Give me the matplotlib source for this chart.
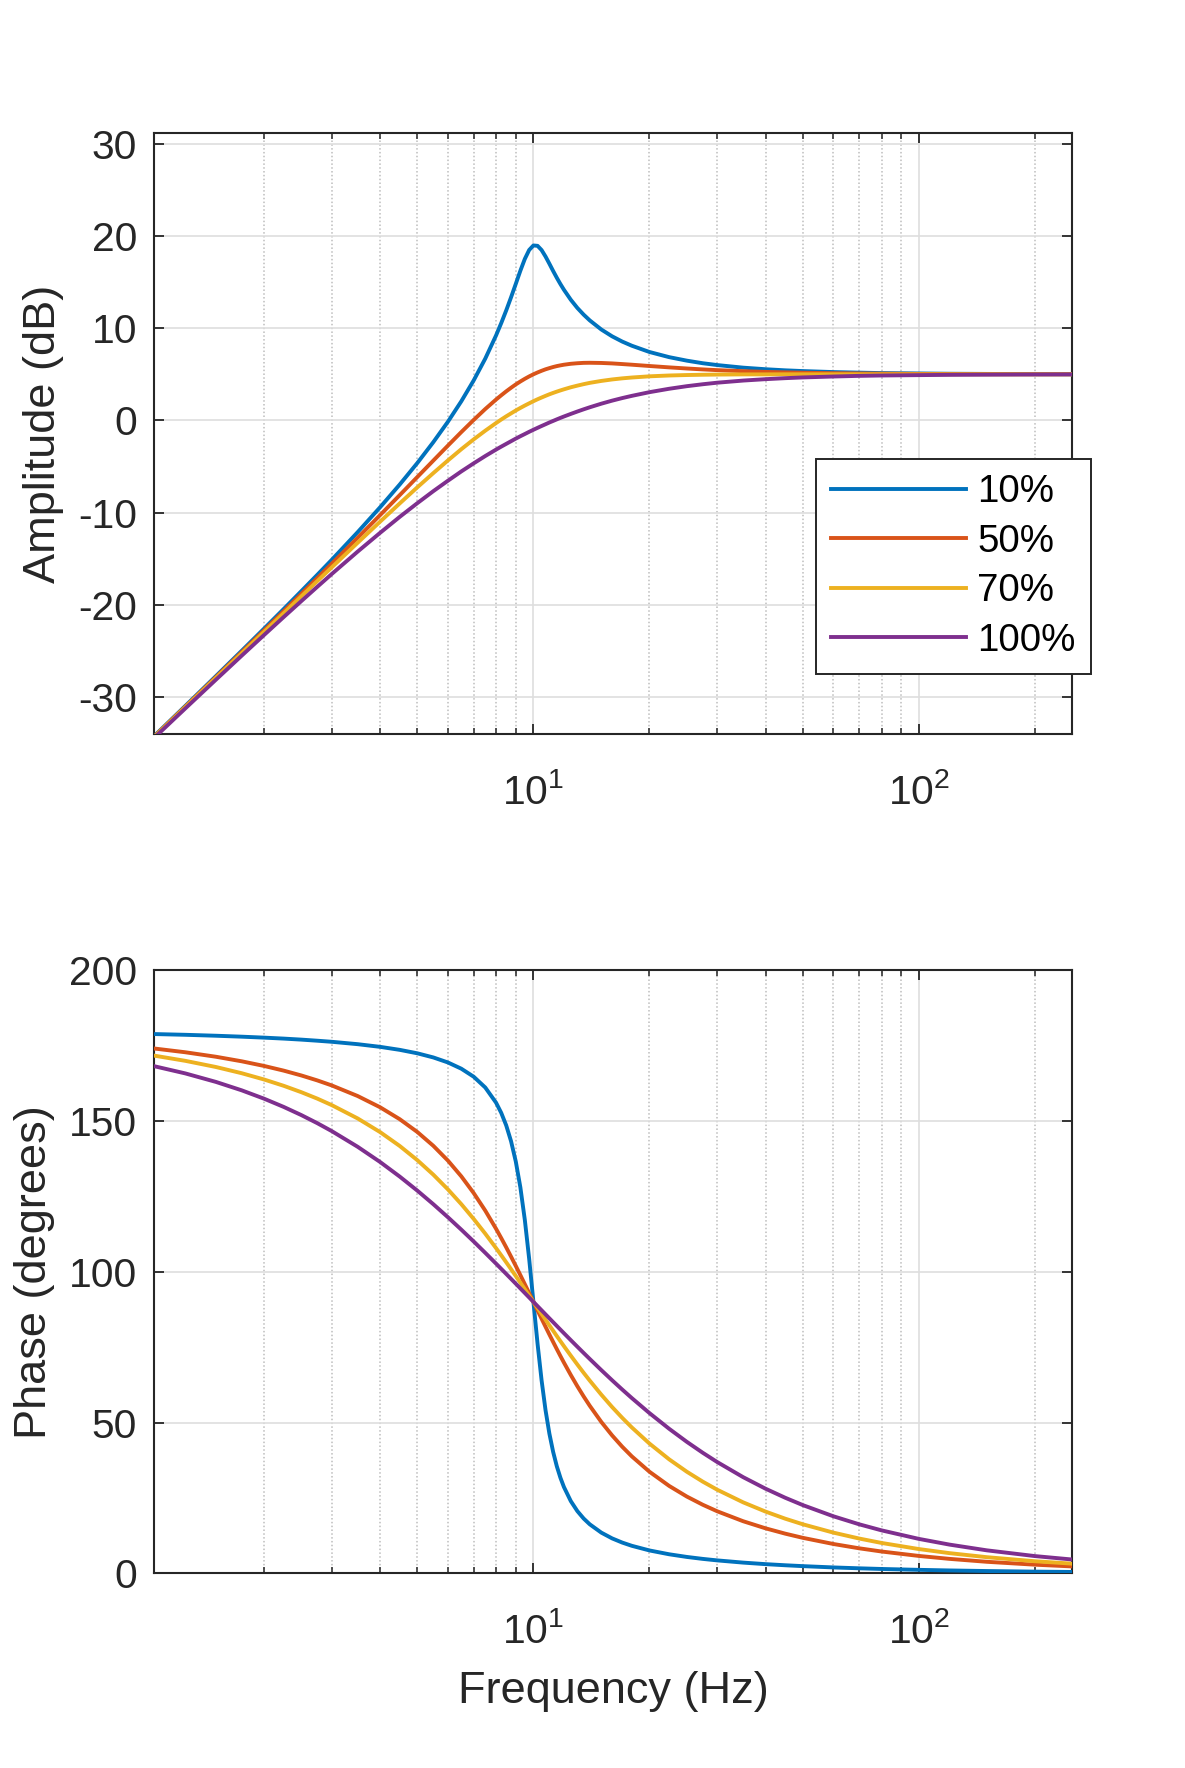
import matplotlib
matplotlib.use('Agg')
import matplotlib.pyplot as plt
from matplotlib.ticker import LogLocator, LogFormatterMathtext, NullFormatter, FixedLocator

# ---------------- data ----------------
freq = [1.035, 1.25, 1.5, 1.75, 2, 2.25, 2.5, 2.75, 3, 3.5,
        4, 4.5, 5, 5.5, 6, 6.5, 7, 7.5, 8, 8.25,
        8.5, 8.75, 9, 9.25, 9.5, 9.75, 10, 10.25, 10.5, 10.75,
        11, 11.25, 11.5, 11.75, 12, 12.5, 13, 13.5, 14, 15,
        16, 17, 18, 20, 22.5, 25, 27.5, 30, 35, 40,
        45, 50, 60, 70, 80, 100, 120, 150, 200, 250]

labels = ['10%', '50%', '70%', '100%']

amp_10 = [-34.31, -30.99, -27.76, -25.01, -22.61, -20.47, -18.53, -16.76, -15.12, -12.13,
          -9.44, -6.96, -4.62, -2.36, -0.15, 2.07, 4.34, 6.70, 9.22, 10.55,
          11.93, 13.36, 14.81, 16.24, 17.52, 18.49, 18.98, 18.94, 18.48, 17.78,
          17.00, 16.21, 15.47, 14.79, 14.17, 13.09, 12.20, 11.47, 10.85, 9.86,
          9.12, 8.55, 8.10, 7.42, 6.86, 6.48, 6.20, 6.00, 5.72, 5.55,
          5.43, 5.35, 5.24, 5.18, 5.13, 5.09, 5.06, 5.04, 5.02, 5.01]
amp_50 = [-34.36, -31.06, -27.86, -25.15, -22.79, -20.70, -18.82, -17.11, -15.54, -12.74,
          -10.29, -8.11, -6.14, -4.36, -2.74, -1.27, 0.05, 1.23, 2.26, 2.72,
          3.15, 3.54, 3.90, 4.22, 4.51, 4.77, 5.00, 5.20, 5.38, 5.54,
          5.67, 5.79, 5.89, 5.97, 6.04, 6.14, 6.20, 6.24, 6.25, 6.23,
          6.18, 6.11, 6.04, 5.90, 5.75, 5.63, 5.53, 5.45, 5.34, 5.26,
          5.21, 5.17, 5.12, 5.09, 5.07, 5.04, 5.03, 5.02, 5.01, 5.01]
amp_70 = [-34.40, -31.12, -27.95, -25.28, -22.96, -20.92, -19.09, -17.44, -15.94, -13.28,
          -11.00, -9.01, -7.26, -5.72, -4.35, -3.13, -2.06, -1.12, -0.29, 0.09,
          0.44, 0.76, 1.07, 1.35, 1.61, 1.85, 2.08, 2.29, 2.48, 2.66,
          2.83, 2.98, 3.12, 3.25, 3.37, 3.59, 3.77, 3.93, 4.07, 4.28,
          4.44, 4.56, 4.65, 4.78, 4.87, 4.92, 4.95, 4.97, 4.99, 4.99,
          5.00, 5.00, 5.00, 5.00, 5.00, 5.00, 5.00, 5.00, 5.00, 5.00]
amp_100 = [-34.50, -31.26, -28.15, -25.54, -23.30, -21.34, -19.61, -18.06, -16.66, -14.24,
           -12.21, -10.47, -8.98, -7.68, -6.55, -5.54, -4.66, -3.87, -3.17, -2.85,
           -2.55, -2.26, -1.98, -1.72, -1.48, -1.24, -1.02, -0.81, -0.61, -0.42,
           -0.23, -0.06, 0.11, 0.27, 0.42, 0.70, 0.96, 1.20, 1.42, 1.81,
           2.14, 2.42, 2.66, 3.06, 3.43, 3.71, 3.92, 4.09, 4.32, 4.47,
           4.58, 4.66, 4.76, 4.83, 4.87, 4.91, 4.94, 4.96, 4.98, 4.99]

phase_10 = [178.80, 178.55, 178.24, 177.93, 177.61, 177.29, 176.95, 176.59, 176.23, 175.44,
            174.56, 173.56, 172.41, 171.04, 169.38, 167.31, 164.65, 161.08, 156.04, 152.68,
            148.51, 143.25, 136.55, 127.97, 117.16, 104.21, 90.00, 76.13, 63.98, 54.10,
            46.33, 40.27, 35.49, 31.69, 28.61, 23.96, 20.64, 18.17, 16.26, 13.50,
            11.59, 10.20, 9.13, 7.59, 6.32, 5.44, 4.79, 4.29, 3.56, 3.05,
            2.68, 2.39, 1.96, 1.67, 1.45, 1.16, 0.96, 0.77, 0.57, 0.46]
phase_50 = [174.03, 172.76, 171.28, 169.77, 168.23, 166.67, 165.07, 163.43, 161.75, 158.25,
            154.54, 150.57, 146.31, 141.74, 136.85, 131.62, 126.07, 120.26, 114.23, 111.16,
            108.08, 104.99, 101.92, 98.87, 95.86, 92.90, 90.00, 87.17, 84.42, 81.76,
            79.19, 76.72, 74.34, 72.05, 69.86, 65.77, 62.04, 58.65, 55.56, 50.19,
            45.73, 41.97, 38.78, 33.69, 28.98, 25.46, 22.74, 20.56, 17.28, 14.93,
            13.16, 11.77, 9.73, 8.30, 7.24, 5.77, 4.80, 3.83, 2.87, 2.29]
phase_70 = [171.67, 169.92, 167.88, 165.82, 163.74, 161.64, 159.52, 157.39, 155.22, 150.82,
            146.31, 141.69, 136.97, 132.17, 127.30, 122.40, 117.49, 112.62, 107.82, 105.46,
            103.13, 100.83, 98.58, 96.36, 94.19, 92.07, 90.00, 87.98, 86.01, 84.10,
            82.23, 80.43, 78.67, 76.97, 75.32, 72.18, 69.24, 66.48, 63.91, 59.24,
            55.14, 51.55, 48.37, 43.03, 37.79, 33.69, 30.40, 27.70, 23.54, 20.48,
            18.12, 16.26, 13.50, 11.54, 10.08, 8.05, 6.70, 5.36, 4.01, 3.21]
phase_100 = [168.18, 165.75, 162.94, 160.15, 157.38, 154.64, 151.93, 149.25, 146.60, 141.42,
             136.40, 131.54, 126.87, 122.38, 118.07, 113.95, 110.02, 106.26, 102.68, 100.95,
             99.27, 97.63, 96.03, 94.46, 92.94, 91.45, 90.00, 88.59, 87.21, 85.86,
             84.55, 83.27, 82.02, 80.80, 79.61, 77.32, 75.14, 73.06, 71.08, 67.38,
             64.01, 60.93, 58.11, 53.13, 47.92, 43.60, 39.97, 36.87, 31.89, 28.07,
             25.06, 22.62, 18.92, 16.26, 14.25, 11.42, 9.53, 7.63, 5.72, 4.58]

amp_ticks = [-30, -20, -10, 0, 10, 20, 30]
phase_ticks = [0, 50, 100, 150, 200]

# ---------------- style ----------------
plt.rcParams['font.family'] = ['Liberation Sans', 'DejaVu Sans']
plt.rcParams['mathtext.fontset'] = 'custom'
plt.rcParams['mathtext.rm'] = 'Liberation Sans'
plt.rcParams['mathtext.it'] = 'Liberation Sans:italic'
plt.rcParams['mathtext.default'] = 'regular'

colors = ['#0072BD', '#D95319', '#EDB120', '#7E2F8E']
dark = '#262626'

fig = plt.figure(figsize=(11.85, 17.68), dpi=100)
ax1 = fig.add_axes([0.1297, 0.5847, 0.7752, 0.3399])
ax2 = fig.add_axes([0.1297, 0.1101, 0.7752, 0.3412])

amps = [amp_10, amp_50, amp_70, amp_100]
phases = [phase_10, phase_50, phase_70, phase_100]

for c, a, lab in zip(colors, amps, labels):
    ax1.semilogx(freq, a, color=c, lw=2.8, label=lab, zorder=3,
                 solid_joinstyle='round')
for c, p, lab in zip(colors, phases, labels):
    ax2.semilogx(freq, p, color=c, lw=2.8, label=lab, zorder=3,
                 solid_joinstyle='round')

ax1.set_ylim(-34.06, 31.15)
ax2.set_ylim(0, 200)
ax1.yaxis.set_major_locator(FixedLocator(amp_ticks))
ax2.yaxis.set_major_locator(FixedLocator(phase_ticks))
ax1.set_yticklabels([str(t) for t in amp_ticks])
ax2.set_yticklabels([str(t) for t in phase_ticks])

for ax in (ax1, ax2):
    ax.set_xlim(1.035, 250)
    ax.xaxis.set_major_locator(LogLocator(base=10, numticks=10))
    ax.xaxis.set_minor_locator(LogLocator(base=10, subs=range(2, 10), numticks=20))
    ax.xaxis.set_major_formatter(LogFormatterMathtext())
    ax.xaxis.set_minor_formatter(NullFormatter())
    ax.set_axisbelow(True)
    ax.grid(True, which='major', color='#dedede', lw=1.2, ls='-')
    ax.grid(True, which='minor', axis='x', color='#bdbdbd', lw=1.1, ls=(0, (1, 1.5)))
    ax.tick_params(which='both', direction='in', top=True, right=True,
                   colors=dark, labelsize=29.3, labelcolor=dark)
    ax.tick_params(which='major', length=7.5, width=1.3)
    ax.tick_params(which='minor', length=4, width=1.1)
    ax.tick_params(axis='y', pad=12)
    ax.tick_params(axis='x', pad=28)
    for s in ax.spines.values():
        s.set_color(dark)
        s.set_linewidth(1.5)

ax1.set_ylabel('Amplitude (dB)', fontsize=32.5, color=dark, labelpad=10)
ax2.set_ylabel('Phase (degrees)', fontsize=32.5, color=dark, labelpad=10)
ax2.set_xlabel('Frequency (Hz)', fontsize=32.5, color=dark, labelpad=14)

leg = ax1.legend(loc='upper left', bbox_to_anchor=(815.7 / 1185, 1 - 459 / 1768),
                 bbox_transform=fig.transFigure, fontsize=27.7, frameon=True,
                 fancybox=False, edgecolor=dark, framealpha=1, borderpad=0.4,
                 handlelength=3.5, handletextpad=0.3, labelspacing=0.35,
                 borderaxespad=0)
leg.get_frame().set_linewidth(1.4)
for t in leg.get_texts():
    t.set_color('black')

fig.savefig('out.png', dpi=100)
